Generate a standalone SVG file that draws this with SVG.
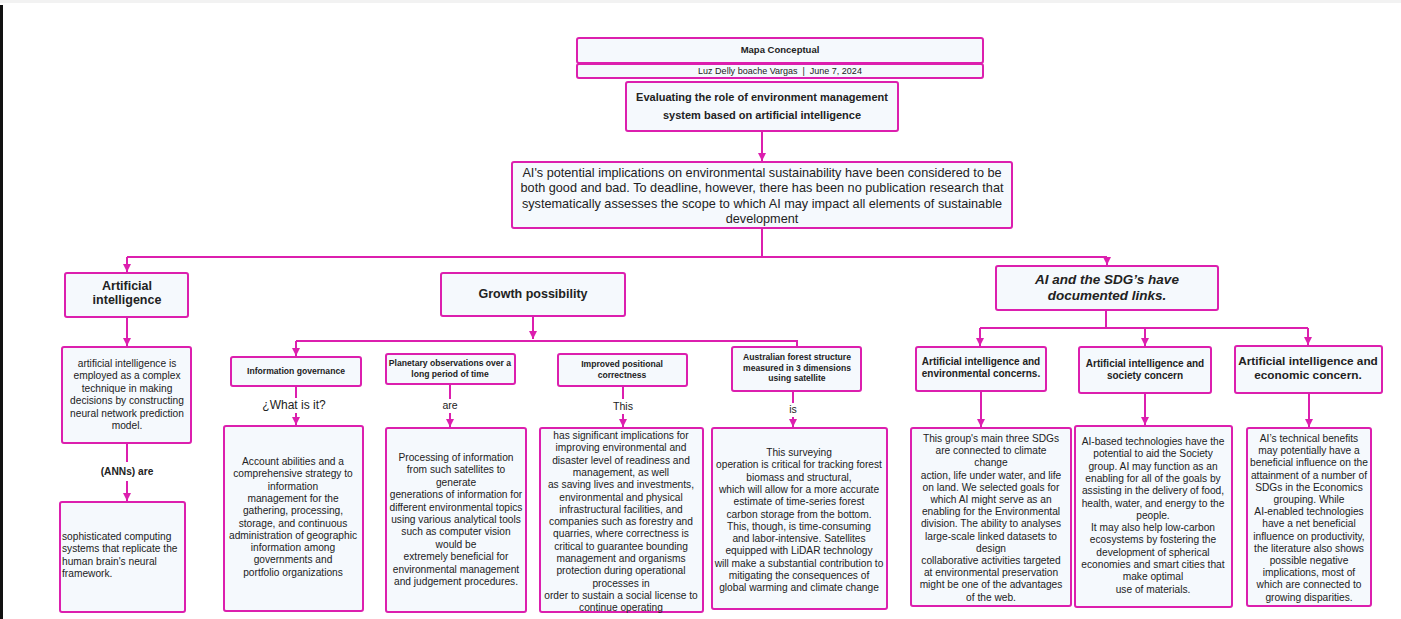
<svg xmlns="http://www.w3.org/2000/svg" width="1401" height="619" viewBox="0 0 1401 619">
<defs>
<marker id="ah" markerUnits="userSpaceOnUse" markerWidth="8" markerHeight="8" refX="8" refY="4" orient="auto">
<path d="M0,0 L8,4 L0,8 z" fill="#dc1fae"/>
</marker>
<style>
.box{fill:#f5f9fd;stroke:#dc1fae;stroke-width:2}
.c{fill:none;stroke:#dc1fae;stroke-width:2}
.a{fill:none;stroke:#dc1fae;stroke-width:2;marker-end:url(#ah)}
text{font-family:"Liberation Sans",Arial,sans-serif;fill:#222}
.t{text-anchor:middle}
.b{font-weight:bold}
.body{font-size:10.2px}
.hs{font-size:8.6px;font-weight:bold;text-anchor:middle}
</style>
</defs>
<rect x="0" y="0" width="1401" height="619" fill="#ffffff"/>
<rect x="0" y="0" width="1401" height="3" fill="#f2f2f2"/>
<rect x="0" y="5" width="3" height="614" fill="#111111"/>

<g id="connectors">
<path class="a" d="M762,131 V161"/>
<path class="c" d="M762,228 V257 M127,257 H1107"/>
<path class="a" d="M127,257 V272"/>
<path class="a" d="M1107,257 V265"/>
<path class="a" d="M127,317 V346"/>
<path class="c" d="M127,443 V462"/>
<path class="a" d="M127,481 V501"/>
<path class="a" d="M533,316 V339"/>
<path class="c" d="M296,341 H797 V347"/>
<path class="a" d="M296,341 V356"/>
<path class="c" d="M296,386 V398"/>
<path class="a" d="M296,413 V425"/>
<path class="c" d="M450,384 V399"/>
<path class="a" d="M450,413 V427"/>
<path class="c" d="M623,386 V399"/>
<path class="a" d="M623,414 V427"/>
<path class="c" d="M793,391 V403"/>
<path class="a" d="M793,417 V427"/>
<path class="c" d="M1106,310 V328 M980,328 H1308"/>
<path class="a" d="M980,328 V346"/>
<path class="a" d="M1145,328 V346"/>
<path class="a" d="M1308,328 V345"/>
<path class="a" d="M981,391 V427"/>
<path class="a" d="M1145,393 V425"/>
<path class="a" d="M1309,393 V427"/>
</g>

<g id="title">
<rect class="box" x="577" y="38" width="406" height="25" rx="2"/>
<text class="t b" x="780" y="53" font-size="9.5">Mapa Conceptual</text>
</g>
<g id="subtitle">
<rect class="box" x="577" y="64" width="406" height="14" rx="2"/>
<text class="t" x="780" y="74" font-size="9">Luz Delly boache Vargas &#160;|&#160; June 7, 2024</text>
</g>

<g id="main">
<rect class="box" x="626" y="82" width="272" height="49" rx="2"/>
<text class="t b" font-size="11"><tspan x="762" y="100.5">Evaluating the role of environment management</tspan><tspan x="762" y="118.5">system based on artificial intelligence</tspan></text>
</g>

<g id="central">
<rect class="box" x="512" y="162" width="500" height="66" rx="2"/>
<text class="t" font-size="12.7"><tspan x="762" y="177">AI's potential implications on environmental sustainability have been considered to be</tspan><tspan x="762" dy="15.3">both good and bad. To deadline, however, there has been no publication research that</tspan><tspan x="762" dy="15.3">systematically assesses the scope to which AI may impact all elements of sustainable</tspan><tspan x="762" dy="15.3">development</tspan></text>
</g>

<g id="ai">
<rect class="box" x="65" y="273" width="123" height="44" rx="2"/>
<text class="t b" font-size="12.5"><tspan x="127" y="290">Artificial</tspan><tspan x="127" dy="14">intelligence</tspan></text>
</g>
<g id="ai-text">
<rect class="box" x="62" y="347" width="129" height="96" rx="2"/>
<text class="t body"><tspan x="127" y="367">artificial intelligence is</tspan><tspan x="127" dy="12.4">employed as a complex</tspan><tspan x="127" dy="12.4">technique in making</tspan><tspan x="127" dy="12.4">decisions by constructing</tspan><tspan x="127" dy="12.4">neural network prediction</tspan><tspan x="127" dy="12.4">model.</tspan></text>
</g>
<g id="anns-label"><text class="t b" x="127" y="475" font-size="10.2">(ANNs) are</text></g>
<g id="ann">
<rect class="box" x="60" y="502" width="125" height="110" rx="2"/>
<text class="body"><tspan x="62" y="540">sophisticated computing</tspan><tspan x="62" dy="12.3">systems that replicate the</tspan><tspan x="62" dy="12.3">human brain's neural</tspan><tspan x="62" dy="12.3">framework.</tspan></text>
</g>

<g id="growth">
<rect class="box" x="441" y="273" width="184" height="43" rx="2"/>
<text class="t b" x="533" y="298" font-size="12.5">Growth possibility</text>
</g>

<g id="infogov">
<rect class="box" x="231" y="357" width="130" height="29" rx="2"/>
<text class="hs" x="296" y="374" font-size="8.5">Information governance</text>
</g>
<g id="infogov-label"><text class="t" x="294" y="409" font-size="12">¿What is it?</text></g>
<g id="infogov-text">
<rect class="box" x="224" y="426" width="139" height="185" rx="2"/>
<text class="t body"><tspan x="293" y="465">Account abilities and a</tspan><tspan x="293" dy="12.3">comprehensive strategy to</tspan><tspan x="293" dy="12.3">information</tspan><tspan x="293" dy="12.3">management for the</tspan><tspan x="293" dy="12.3">gathering, processing,</tspan><tspan x="293" dy="12.3">storage, and continuous</tspan><tspan x="293" dy="12.3">administration of geographic</tspan><tspan x="293" dy="12.3">information among</tspan><tspan x="293" dy="12.3">governments and</tspan><tspan x="293" dy="12.3">portfolio organizations</tspan></text>
</g>

<g id="planetary">
<rect class="box" x="386" y="354" width="129" height="30" rx="2"/>
<text class="hs"><tspan x="450" y="366">Planetary observations over a</tspan><tspan x="450" dy="10.5">long period of time</tspan></text>
</g>
<g id="planetary-label"><text class="t" x="450" y="408.5" font-size="10.5">are</text></g>
<g id="planetary-text">
<rect class="box" x="386" y="428" width="140" height="184" rx="2"/>
<text class="t body"><tspan x="456" y="461">Processing of information</tspan><tspan x="456" dy="12.4">from such satellites to</tspan><tspan x="456" dy="12.4">generate</tspan><tspan x="456" dy="12.4">generations of information for</tspan><tspan x="456" dy="12.4">different environmental topics</tspan><tspan x="456" dy="12.4">using various analytical tools</tspan><tspan x="456" dy="12.4">such as computer vision</tspan><tspan x="456" dy="12.4">would be</tspan><tspan x="456" dy="12.4">extremely beneficial for</tspan><tspan x="456" dy="12.4">environmental management</tspan><tspan x="456" dy="12.4">and judgement procedures.</tspan></text>
</g>

<g id="improved">
<rect class="box" x="558" y="354" width="129" height="32" rx="2"/>
<text class="hs"><tspan x="622" y="367">Improved positional</tspan><tspan x="622" dy="10.5">correctness</tspan></text>
</g>
<g id="improved-label"><text class="t" x="623" y="409.5" font-size="10.6">This</text></g>
<g id="improved-text">
<rect class="box" x="540" y="428" width="163" height="184" rx="2"/>
<text class="t body"><tspan x="621" y="439">has significant implications for</tspan><tspan x="621" dy="12.3">improving environmental and</tspan><tspan x="621" dy="12.3">disaster level of readiness and</tspan><tspan x="621" dy="12.3">management, as well</tspan><tspan x="621" dy="12.3">as saving lives and investments,</tspan><tspan x="621" dy="12.3">environmental and physical</tspan><tspan x="621" dy="12.3">infrastructural facilities, and</tspan><tspan x="621" dy="12.3">companies such as forestry and</tspan><tspan x="621" dy="12.3">quarries, where correctness is</tspan><tspan x="621" dy="12.3">critical to guarantee bounding</tspan><tspan x="621" dy="12.3">management and organisms</tspan><tspan x="621" dy="12.3">protection during operational</tspan><tspan x="621" dy="12.3">processes in</tspan><tspan x="621" dy="12.3">order to sustain a social license to</tspan><tspan x="621" dy="12.3">continue operating</tspan></text>
</g>

<g id="australian">
<rect class="box" x="732" y="347" width="129" height="44" rx="2"/>
<text class="hs"><tspan x="797" y="360">Australian forest structure</tspan><tspan x="797" dy="10.5">measured in 3 dimensions</tspan><tspan x="797" dy="10.5">using satellite</tspan></text>
</g>
<g id="australian-label"><text class="t" x="793" y="412.5" font-size="10.5">is</text></g>
<g id="australian-text">
<rect class="box" x="712" y="428" width="175" height="181" rx="2"/>
<text class="t body"><tspan x="799" y="456">This surveying</tspan><tspan x="799" dy="12.3">operation is critical for tracking forest</tspan><tspan x="799" dy="12.3">biomass and structural,</tspan><tspan x="799" dy="12.3">which will allow for a more accurate</tspan><tspan x="799" dy="12.3">estimate of time-series forest</tspan><tspan x="799" dy="12.3">carbon storage from the bottom.</tspan><tspan x="799" dy="12.3">This, though, is time-consuming</tspan><tspan x="799" dy="12.3">and labor-intensive. Satellites</tspan><tspan x="799" dy="12.3">equipped with LiDAR technology</tspan><tspan x="799" dy="12.3">will make a substantial contribution to</tspan><tspan x="799" dy="12.3">mitigating the consequences of</tspan><tspan x="799" dy="12.3">global warming and climate change</tspan></text>
</g>

<g id="sdg">
<rect class="box" x="996" y="266" width="222" height="44" rx="2"/>
<text class="t b" font-size="13.5" font-style="italic"><tspan x="1107" y="284">AI and the SDG’s have</tspan><tspan x="1107" dy="16">documented links.</tspan></text>
</g>

<g id="env">
<rect class="box" x="916" y="347" width="130" height="44" rx="2"/>
<text class="t b" font-size="10"><tspan x="981" y="365">Artificial intelligence and</tspan><tspan x="981" dy="12">environmental concerns.</tspan></text>
</g>
<g id="env-text">
<rect class="box" x="911" y="428" width="160" height="178" rx="2"/>
<text class="t body"><tspan x="991" y="442">This group's main three SDGs</tspan><tspan x="991" dy="12.2">are connected to climate</tspan><tspan x="991" dy="12.2">change</tspan><tspan x="991" dy="12.2">action, life under water, and life</tspan><tspan x="991" dy="12.2">on land. We selected goals for</tspan><tspan x="991" dy="12.2">which AI might serve as an</tspan><tspan x="991" dy="12.2">enabling for the Environmental</tspan><tspan x="991" dy="12.2">division. The ability to analyses</tspan><tspan x="991" dy="12.2">large-scale linked datasets to</tspan><tspan x="991" dy="12.2">design</tspan><tspan x="991" dy="12.2">collaborative activities targeted</tspan><tspan x="991" dy="12.2">at environmental preservation</tspan><tspan x="991" dy="12.2">might be one of the advantages</tspan><tspan x="991" dy="12.2">of the web.</tspan></text>
</g>

<g id="society">
<rect class="box" x="1079" y="347" width="132" height="46" rx="2"/>
<text class="t b" font-size="10"><tspan x="1145" y="367">Artificial intelligence and</tspan><tspan x="1145" dy="11.5">society concern</tspan></text>
</g>
<g id="society-text">
<rect class="box" x="1075" y="426" width="157" height="181" rx="2"/>
<text class="t body"><tspan x="1153" y="445">AI-based technologies have the</tspan><tspan x="1153" dy="12.3">potential to aid the Society</tspan><tspan x="1153" dy="12.3">group. AI may function as an</tspan><tspan x="1153" dy="12.3">enabling for all of the goals by</tspan><tspan x="1153" dy="12.3">assisting in the delivery of food,</tspan><tspan x="1153" dy="12.3">health, water, and energy to the</tspan><tspan x="1153" dy="12.3">people.</tspan><tspan x="1153" dy="12.3">It may also help low-carbon</tspan><tspan x="1153" dy="12.3">ecosystems by fostering the</tspan><tspan x="1153" dy="12.3">development of spherical</tspan><tspan x="1153" dy="12.3">economies and smart cities that</tspan><tspan x="1153" dy="12.3">make optimal</tspan><tspan x="1153" dy="12.3">use of materials.</tspan></text>
</g>

<g id="economic">
<rect class="box" x="1235" y="346" width="147" height="47" rx="2"/>
<text class="t b" font-size="11.8"><tspan x="1308" y="365">Artificial intelligence and</tspan><tspan x="1308" dy="14">economic concern.</tspan></text>
</g>
<g id="economic-text">
<rect class="box" x="1247" y="428" width="124" height="178" rx="2"/>
<text class="t body"><tspan x="1309" y="442">AI’s technical benefits</tspan><tspan x="1309" dy="12.2">may potentially have a</tspan><tspan x="1309" dy="12.2">beneficial influence on the</tspan><tspan x="1309" dy="12.2">attainment of a number of</tspan><tspan x="1309" dy="12.2">SDGs in the Economics</tspan><tspan x="1309" dy="12.2">grouping. While</tspan><tspan x="1309" dy="12.2">AI-enabled technologies</tspan><tspan x="1309" dy="12.2">have a net beneficial</tspan><tspan x="1309" dy="12.2">influence on productivity,</tspan><tspan x="1309" dy="12.2">the literature also shows</tspan><tspan x="1309" dy="12.2">possible negative</tspan><tspan x="1309" dy="12.2">implications, most of</tspan><tspan x="1309" dy="12.2">which are connected to</tspan><tspan x="1309" dy="12.2">growing disparities.</tspan></text>
</g>
</svg>
